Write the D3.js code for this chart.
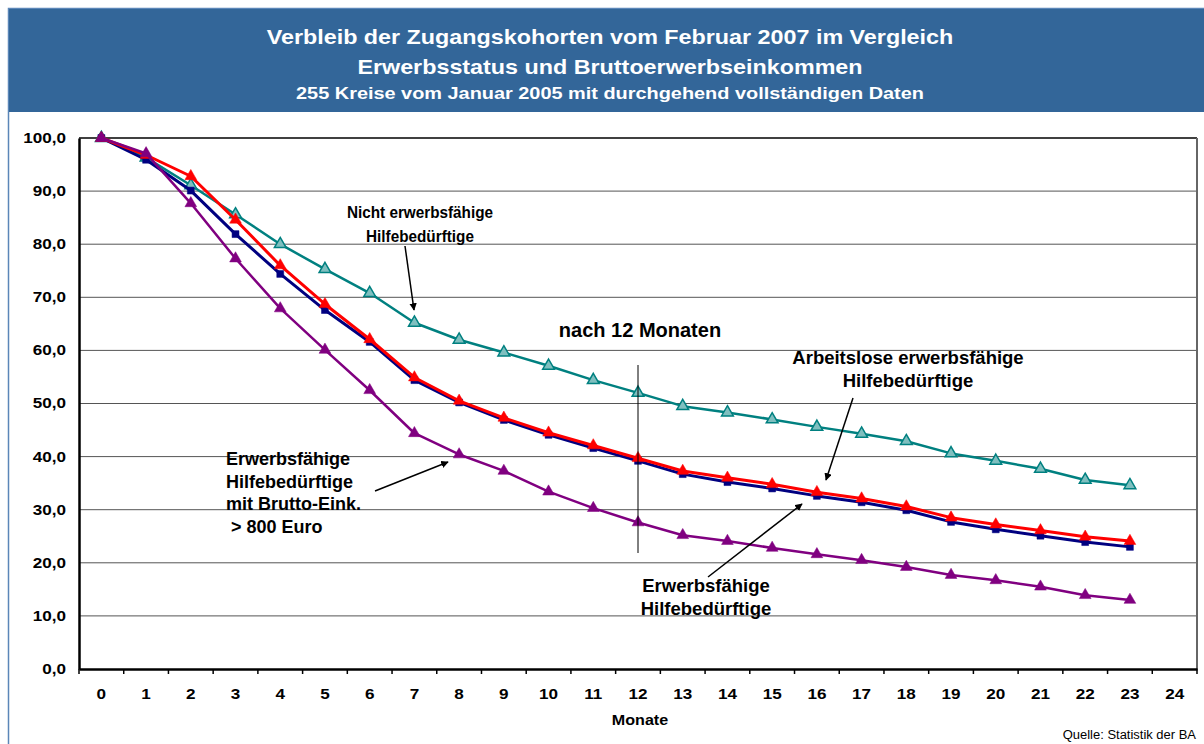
<!DOCTYPE html>
<html>
<head>
<meta charset="utf-8">
<script src="https://cdn.jsdelivr.net/npm/d3@7"></script>
<style>
  body { margin: 0; background: #fff; }
  svg { display: block; font-family: "Liberation Sans", Arial, sans-serif; }
</style>
</head>
<body>
<div id="chart"></div>
<script>
const WIDTH = 1204, HEIGHT = 744;
const M = { top: 138, right: 7, bottom: 75, left: 79 };
const innerW = WIDTH - M.left - M.right;
const innerH = HEIGHT - M.top - M.bottom;

// Monate 0..24 (category axis), data exists for 0..23
const months = d3.range(0, 25);
const yTicks = [0, 10, 20, 30, 40, 50, 60, 70, 80, 90, 100];

const nichtErwerbsf = [100, 96.3, 91.1, 85.6, 80.0, 75.3, 70.8, 65.2, 62.0, 59.6, 57.1, 54.4, 52.0, 49.5, 48.3, 47.0, 45.6, 44.3, 42.9, 40.6, 39.2, 37.7, 35.6, 34.6];
const erwerbsf      = [100, 95.9, 90.1, 81.9, 74.4, 67.6, 61.6, 54.4, 50.2, 46.9, 44.1, 41.6, 39.2, 36.7, 35.2, 34.0, 32.6, 31.4, 29.9, 27.7, 26.3, 25.1, 23.9, 23.0];
const arbeitslose   = [100, 96.8, 92.8, 84.6, 76.0, 68.7, 62.1, 54.9, 50.5, 47.3, 44.5, 42.1, 39.7, 37.3, 36.0, 34.8, 33.3, 32.1, 30.6, 28.5, 27.2, 26.1, 24.9, 24.1];
const brutto800     = [100, 97.1, 87.7, 77.3, 67.9, 60.1, 52.5, 44.4, 40.4, 37.3, 33.4, 30.3, 27.6, 25.2, 24.1, 22.8, 21.6, 20.5, 19.2, 17.7, 16.7, 15.5, 13.9, 13.0];

const series = [
  { name: "Nicht erwerbsfähige Hilfebedürftige", values: nichtErwerbsf, color: "#008080", width: 2.5, marker: "tri-open" },
  { name: "Erwerbsfähige Hilfebedürftige", values: erwerbsf, color: "#000080", width: 3, marker: "square" },
  { name: "Arbeitslose erwerbsfähige Hilfebedürftige", values: arbeitslose, color: "#ff0000", width: 3, marker: "tri" },
  { name: "Erwerbsfähige Hilfebedürftige mit Brutto-Eink. > 800 Euro", values: brutto800, color: "#800080", width: 2.5, marker: "tri" }
];

// the original export has horizontally stretched glyphs
function stretch(sel, f) {
  sel.each(function() {
    const L = this.getComputedTextLength();
    d3.select(this).attr("textLength", L * f).attr("lengthAdjust", "spacingAndGlyphs");
  });
}

const svg = d3.select("#chart").append("svg")
  .attr("width", WIDTH).attr("height", HEIGHT);

// frame + title band
svg.append("rect").attr("x", 8.5).attr("y", 8.5).attr("width", WIDTH).attr("height", HEIGHT)
  .attr("fill", "none").attr("stroke", "#5b86b8").attr("stroke-width", 1.5);
svg.append("rect").attr("x", 9).attr("y", 9).attr("width", WIDTH - 9).attr("height", 103)
  .attr("fill", "#336699");

const titles = [
  { t: "Verbleib der Zugangskohorten vom Februar 2007 im Vergleich", y: 44, s: 21, f: 1.11 },
  { t: "Erwerbsstatus und Bruttoerwerbseinkommen", y: 74, s: 21, f: 1.11 },
  { t: "255 Kreise vom Januar 2005 mit durchgehend vollständigen Daten", y: 99, s: 17, f: 1.17 }
];
titles.forEach(d => {
  svg.append("text")
    .attr("x", 610).attr("y", d.y).attr("text-anchor", "middle")
    .attr("fill", "#fff").attr("font-weight", "bold").attr("font-size", d.s)
    .text(d.t).call(stretch, d.f);
});

const g = svg.append("g").attr("transform", `translate(${M.left},${M.top})`);

const x = d3.scaleBand().domain(months).range([0, innerW]);
const y = d3.scaleLinear().domain([0, 100]).range([innerH, 0]);
const cx = i => x(i) + x.bandwidth() / 2;

// gridlines
g.selectAll(".grid").data(yTicks.slice(1)).join("line")
  .attr("x1", 0).attr("x2", innerW)
  .attr("y1", d => y(d)).attr("y2", d => y(d))
  .attr("stroke", d => d === 100 ? "#000" : "#555").attr("stroke-width", d => d === 100 ? 1.5 : 1);

// right border
g.append("line").attr("x1", innerW).attr("x2", innerW).attr("y1", 0).attr("y2", innerH)
  .attr("stroke", "#666").attr("stroke-width", 2);

// y axis
const yAxis = g.append("g").call(d3.axisLeft(y).tickValues(yTicks).tickSize(0).tickPadding(13)
  .tickFormat(d => d3.format(".1f")(d).replace(".", ",")));
yAxis.select(".domain").attr("stroke", "#000").attr("stroke-width", 2.5);
yAxis.selectAll("text").attr("font-size", 14).attr("font-weight", "bold").attr("fill", "#000")
  .attr("font-family", "Liberation Sans, Arial, sans-serif").call(stretch, 1.22);

// x axis
const xAxis = g.append("g").attr("transform", `translate(0,${innerH})`)
  .call(d3.axisBottom(x).tickSize(0).tickPadding(19));
xAxis.select(".domain").attr("stroke", "#000").attr("stroke-width", 2.5);
xAxis.selectAll("text").attr("font-size", 15).attr("font-weight", "bold").attr("fill", "#000")
  .attr("font-family", "Liberation Sans, Arial, sans-serif").call(stretch, 1.14);
xAxis.selectAll(".bnd").data(months.concat([25])).join("line")
  .attr("x1", d => d < 25 ? x(d) : innerW).attr("x2", d => d < 25 ? x(d) : innerW)
  .attr("y1", 0).attr("y2", 5).attr("stroke", "#000").attr("stroke-width", 1.5);

g.append("text").attr("x", innerW / 2 + 2).attr("y", innerH + 56).attr("text-anchor", "middle")
  .attr("font-size", 14).attr("font-weight", "bold").text("Monate").call(stretch, 1.15);

// series
const line = d3.line().x((d, i) => cx(i)).y(d => y(d));
const tri = d3.symbol().type(d3.symbolTriangle).size(60);
const sq = d3.symbol().type(d3.symbolSquare).size(48);

series.forEach(s => {
  g.append("path").datum(s.values).attr("fill", "none").attr("stroke", s.color)
    .attr("stroke-width", s.width).attr("stroke-linejoin", "round").attr("d", line);
  g.selectAll(null).data(s.values).join("path")
    .attr("transform", (d, i) => `translate(${cx(i)},${y(d)})`)
    .attr("d", s.marker === "square" ? sq() : tri())
    .attr("fill", s.marker === "tri-open" ? "#7fbfbf" : s.color)
    .attr("stroke", s.color).attr("stroke-width", s.marker === "tri-open" ? 1.5 : 0.5);
});

// 12-month marker line
g.append("line").attr("x1", cx(12)).attr("x2", cx(12)).attr("y1", 365 - M.top).attr("y2", 553 - M.top)
  .attr("stroke", "#000").attr("stroke-width", 1);

// annotations (in svg coords); f = horizontal squeeze around anchor
const notes = [
  { lines: ["Nicht erwerbsfähige", "Hilfebedürftige"], x: 420, y: 218, anchor: "middle", lh: 24, s: 17, f: 0.9 },
  { lines: ["nach 12 Monaten"], x: 640, y: 337, anchor: "middle", lh: 24, s: 20, f: 1 },
  { lines: ["Arbeitslose erwerbsfähige", "Hilfebedürftige"], x: 908, y: 364, anchor: "middle", lh: 23, s: 18.5, f: 1 },
  { lines: ["Erwerbsfähige", "Hilfebedürftige", "mit Brutto-Eink.", " > 800 Euro"], x: 226, y: 465, anchor: "start", lh: 22.5, s: 18, f: 1 },
  { lines: ["Erwerbsfähige", "Hilfebedürftige"], x: 706, y: 592, anchor: "middle", lh: 23, s: 18.5, f: 1 }
];
notes.forEach(n => {
  const t = svg.append("text").attr("y", n.y).attr("text-anchor", n.anchor)
    .attr("font-size", n.s).attr("font-weight", "bold").attr("fill", "#000")
    .attr("xml:space", "preserve");
  n.lines.forEach((l, i) => t.append("tspan").attr("x", n.x).attr("dy", i ? n.lh : 0).text(l));
  if (n.f !== 1) t.attr("transform", `translate(${n.x},0) scale(${n.f},1) translate(${-n.x},0)`);
});

const defs = svg.append("defs");
defs.append("marker").attr("id", "arr").attr("viewBox", "0 0 10 10").attr("refX", 9).attr("refY", 5)
  .attr("markerWidth", 5).attr("markerHeight", 5).attr("orient", "auto")
  .append("path").attr("d", "M0,0L10,5L0,10z").attr("fill", "#000");

const arrows = [
  [405, 246, 414, 310],
  [853, 398, 826, 480],
  [375, 491, 448, 462],
  [708, 577, 802, 504]
];
svg.selectAll(".arrow").data(arrows).join("line")
  .attr("x1", d => d[0]).attr("y1", d => d[1]).attr("x2", d => d[2]).attr("y2", d => d[3])
  .attr("stroke", "#000").attr("stroke-width", 1.5).attr("marker-end", "url(#arr)");

svg.append("text").attr("x", 1196).attr("y", 739).attr("text-anchor", "end")
  .attr("font-size", 12).attr("fill", "#000").text("Quelle: Statistik der BA").call(stretch, 1.08);
</script>
</body>
</html>
